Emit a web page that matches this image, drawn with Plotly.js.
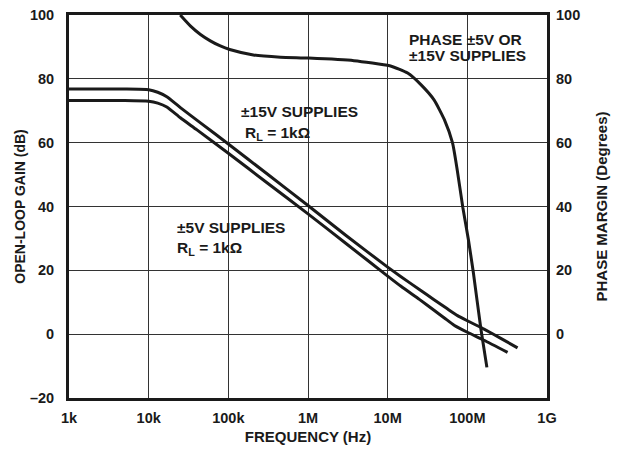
<!DOCTYPE html>
<html><head><meta charset="utf-8">
<script src="https://cdn.plot.ly/plotly-3.0.1.min.js"></script>
<style>html,body{margin:0;padding:0;background:#fff}#chart{width:621px;height:455px}</style>
</head><body><div id="chart"></div>
<script>
// Frequencies in Hz, gain in dB, phase in degrees
const freq15 = [1e3, 5e3, 1e4, 1.3e4, 1.69e4, 2.5e4, 4.47e4, 1e5, 3e5, 1e6, 3e6, 1e7, 1.47e7, 2.5e7, 3.82e7, 5.5e7, 7.53e7, 1e8, 1.3e8, 1.62e8, 2.63e8, 4.27e8];
const gain15 = [76.8, 76.8, 76.6, 75.8, 74.4, 71.0, 66.2, 59.6, 50.4, 40.3, 30.9, 21.0, 18.0, 14.0, 10.8, 8.1, 5.8, 4.2, 2.8, 1.6, -1.3, -4.3];
const freq5 = [1e3, 5e3, 1e4, 1.3e4, 1.69e4, 2.5e4, 4.04e4, 1e5, 3e5, 1e6, 3e6, 1e7, 1.47e7, 2.5e7, 3.82e7, 5.2e7, 6.82e7, 1e8, 1.62e8, 3.2e8];
const gain5 = [73.2, 73.2, 73.0, 72.4, 71.2, 67.8, 64.0, 56.7, 47.6, 37.7, 28.4, 18.2, 15.0, 10.9, 7.5, 5.0, 2.8, 0.6, -1.9, -5.7];
const freqPh = [2.49e4, 3.33e4, 4.47e4, 5.94e4, 7.93e4, 1.04e5, 2.06e5, 4.51e5, 1.02e6, 3.77e6, 1.06e7, 1.78e7, 2.63e7, 3.82e7, 5.15e7, 6.52e7, 7.45e7, 8.77e7, 1.03e8, 1.19e8, 1.48e8, 1.76e8];
const phase = [100, 96.6, 93.9, 91.9, 90.3, 89.2, 87.5, 86.8, 86.5, 85.7, 84.1, 81.8, 78.1, 73.4, 67.2, 59.9, 51.6, 39.8, 29.7, 19.3, 1.6, -10.4];
const xTickVals = [1e3, 1e4, 1e5, 1e6, 1e7, 1e8, 1e9];
const xTickText = ['1k', '10k', '100k', '1M', '10M', '100M', '1G'];
const yTickVals = [-20, 0, 20, 40, 60, 80, 100];
const yTickText = ['\u201320', '0', '20', '40', '60', '80', '100'];
const y2TickVals = [0, 20, 40, 60, 80, 100];
const y2TickText = ['0', '20', '40', '60', '80', '100'];

const lineStyle = {color: '#1a1a1a', width: 3, shape: 'spline', smoothing: 0.5};
const traces = [
  {x: freq15, y: gain15, type: 'scatter', mode: 'lines', line: lineStyle, hoverinfo: 'skip'},
  {x: freq5, y: gain5, type: 'scatter', mode: 'lines', line: lineStyle, hoverinfo: 'skip'},
  {x: freqPh, y: phase, type: 'scatter', mode: 'lines', line: lineStyle, yaxis: 'y2', hoverinfo: 'skip'}
];
const FAM = 'Liberation Sans, Arial, sans-serif';
const tickFont = {family: FAM, size: 14.5, color: '#1a1a1a', weight: 'bold'};
const annFont = {family: FAM, size: 15.5, color: '#1a1a1a', weight: 'bold'};
const layout = {
  width: 621, height: 455,
  margin: {l: 69, r: 74, t: 15, b: 57},
  paper_bgcolor: '#fff', plot_bgcolor: '#fff',
  showlegend: false,
  xaxis: {type: 'log', range: [3, 9], tickvals: xTickVals, ticktext: xTickText,
    showgrid: true, gridcolor: '#333', gridwidth: 1, zeroline: false,
    showline: true, linecolor: '#1a1a1a', linewidth: 3, mirror: true,
    ticks: '', tickfont: tickFont, ticklabelstandoff: 5,
    title: {text: 'FREQUENCY (Hz)', font: {family: FAM, size: 15, color: '#1a1a1a', weight: 'bold'}, standoff: 7}},
  yaxis: {range: [-20, 100], tickvals: yTickVals, ticktext: yTickText,
    showgrid: true, gridcolor: '#333', gridwidth: 1, zeroline: false,
    showline: true, linecolor: '#1a1a1a', linewidth: 3, mirror: true,
    ticks: '', tickfont: tickFont, ticklabelstandoff: 9,
    title: {text: 'OPEN-LOOP GAIN (dB)', font: {family: FAM, size: 14, color: '#1a1a1a', weight: 'bold'}, standoff: 1}},
  yaxis2: {range: [-20, 100], overlaying: 'y', side: 'right', tickvals: y2TickVals, ticktext: y2TickText,
    showgrid: false, zeroline: false, showline: false, ticks: '', tickfont: tickFont, ticklabelstandoff: 8,
    title: {text: 'PHASE MARGIN (Degrees)', font: {family: FAM, size: 15, color: '#1a1a1a', weight: 'bold'}, standoff: 17}},
  annotations: [
    {xref: 'paper', yref: 'paper', x: 0.8295, y: 0.9373, text: 'PHASE \u00b15V OR', showarrow: false, font: annFont, xanchor: 'center', yanchor: 'middle'},
    {xref: 'paper', yref: 'paper', x: 0.8347, y: 0.893, text: '\u00b115V SUPPLIES', showarrow: false, font: annFont, xanchor: 'center', yanchor: 'middle'},
    {xref: 'paper', yref: 'paper', x: 0.355, y: 0.7493, text: '\u00b115V SUPPLIES', showarrow: false, font: annFont, xanchor: 'left', yanchor: 'middle'},
    {xref: 'paper', yref: 'paper', x: 0.363, y: 0.690, text: 'R<sub>L</sub> = 1k\u03a9', showarrow: false, font: annFont, xanchor: 'left', yanchor: 'middle'},
    {xref: 'paper', yref: 'paper', x: 0.222, y: 0.4452, text: '\u00b15V SUPPLIES', showarrow: false, font: annFont, xanchor: 'left', yanchor: 'middle'},
    {xref: 'paper', yref: 'paper', x: 0.222, y: 0.391, text: 'R<sub>L</sub> = 1k\u03a9', showarrow: false, font: annFont, xanchor: 'left', yanchor: 'middle'}
  ]
};
Plotly.newPlot('chart', traces, layout, {staticPlot: true, displayModeBar: false});
</script></body></html>
